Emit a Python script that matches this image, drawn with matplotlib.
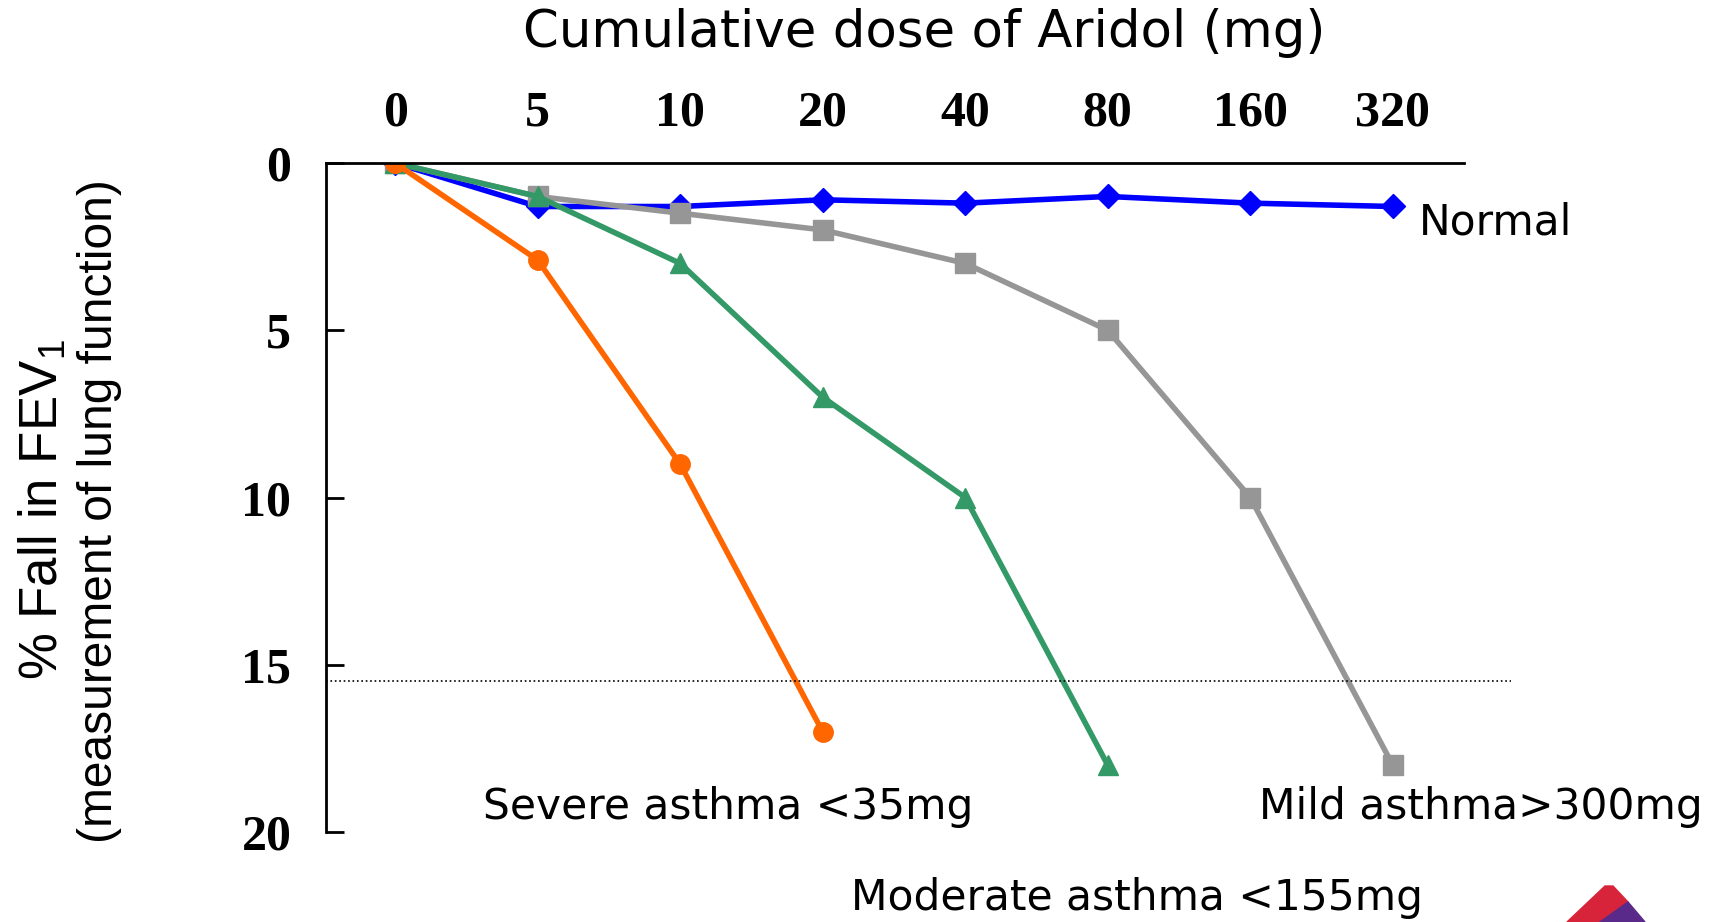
import matplotlib.pyplot as plt
from matplotlib.patches import Polygon

plt.rcParams['mathtext.default'] = 'regular'

doses = ["0", "5", "10", "20", "40", "80", "160", "320"]
y_ticks = [0, 5, 10, 15, 20]

normal = [0, 1.3, 1.3, 1.1, 1.2, 1.0, 1.2, 1.3]
mild = [0, 1.0, 1.5, 2.0, 3.0, 5.0, 10.0, 18.0]
moderate = [0, 1.0, 3.0, 7.0, 10.0, 18.0]
severe = [0, 2.9, 9.0, 17.0]
threshold = 15.5

fig = plt.figure(figsize=(17.19, 9.22), dpi=100)
ax = fig.add_axes([0.1897, 0.0976, 0.662, 0.7256])

ax.plot(range(len(normal)), normal, '-D', color="#0000FF", lw=4, markersize=12)
ax.plot(range(len(mild)), mild, '-s', color="#969696", lw=4, markersize=14)
ax.plot(range(len(moderate)), moderate, '-^', color="#339966", lw=4, markersize=15)
ax.plot(range(len(severe)), severe, '-o', color="#FF6600", lw=4, markersize=14)

# 15% threshold, runs a bit past the axis on the right
ax.plot([-0.484, 7.83], [threshold, threshold], ':', color="black", lw=1.2, clip_on=False)

ax.set_xlim(-0.484, 7.50)
ax.set_ylim(20, 0)

ax.xaxis.tick_top()
ax.set_xticks(range(len(doses)))
ax.set_xticklabels(doses)
ax.set_yticks(y_ticks)
ax.tick_params(axis="x", length=0, pad=19)
ax.tick_params(axis="y", direction="in", length=13, width=2, pad=25)
for lab in ax.get_xticklabels() + ax.get_yticklabels():
    lab.set_fontfamily("Liberation Serif")
    lab.set_fontweight("bold")
    lab.set_fontsize(36)

ax.spines["right"].set_visible(False)
ax.spines["bottom"].set_visible(False)
ax.spines["top"].set_linewidth(2)
ax.spines["left"].set_linewidth(2)

lbl = dict(fontsize=30.5, family="DejaVu Sans", va="center", ha="left")
ax.text(7.18, 1.78, "Normal", **lbl)
ax.text(0.62, 19.26, "Severe asthma <35mg", **lbl)
ax.text(6.06, 19.26, "Mild asthma>300mg", **lbl)
ax.text(3.2, 21.98, "Moderate asthma <155mg", **lbl)

fig.text(0.5377, 0.964, "Cumulative dose of Aridol (mg)", fontsize=37,
         family="DejaVu Sans", ha="center", va="center")

fig.text(0.025, 0.447, "% Fall in FEV$_1$", fontsize=38, family="Liberation Sans",
         rotation=90, ha="center", va="center")
fig.text(0.058, 0.446, "(measurement of lung function)", fontsize=34.5,
         family="Liberation Sans", rotation=90, ha="center", va="center")

# logo corner, cut by the bottom edge
W, H = 1719, 922
red = [(1567, 922), (1605, 886), (1613, 886), (1628, 902), (1600, 922)]
purple = [(1600, 922), (1628, 902), (1645, 922)]
fig.patches.append(Polygon([(x / W, 1 - y / H) for x, y in red], closed=True,
                           transform=fig.transFigure, color="#d8243a"))
fig.patches.append(Polygon([(x / W, 1 - y / H) for x, y in purple], closed=True,
                           transform=fig.transFigure, color="#5a2a8a"))

fig.savefig("out.png", dpi=100)
